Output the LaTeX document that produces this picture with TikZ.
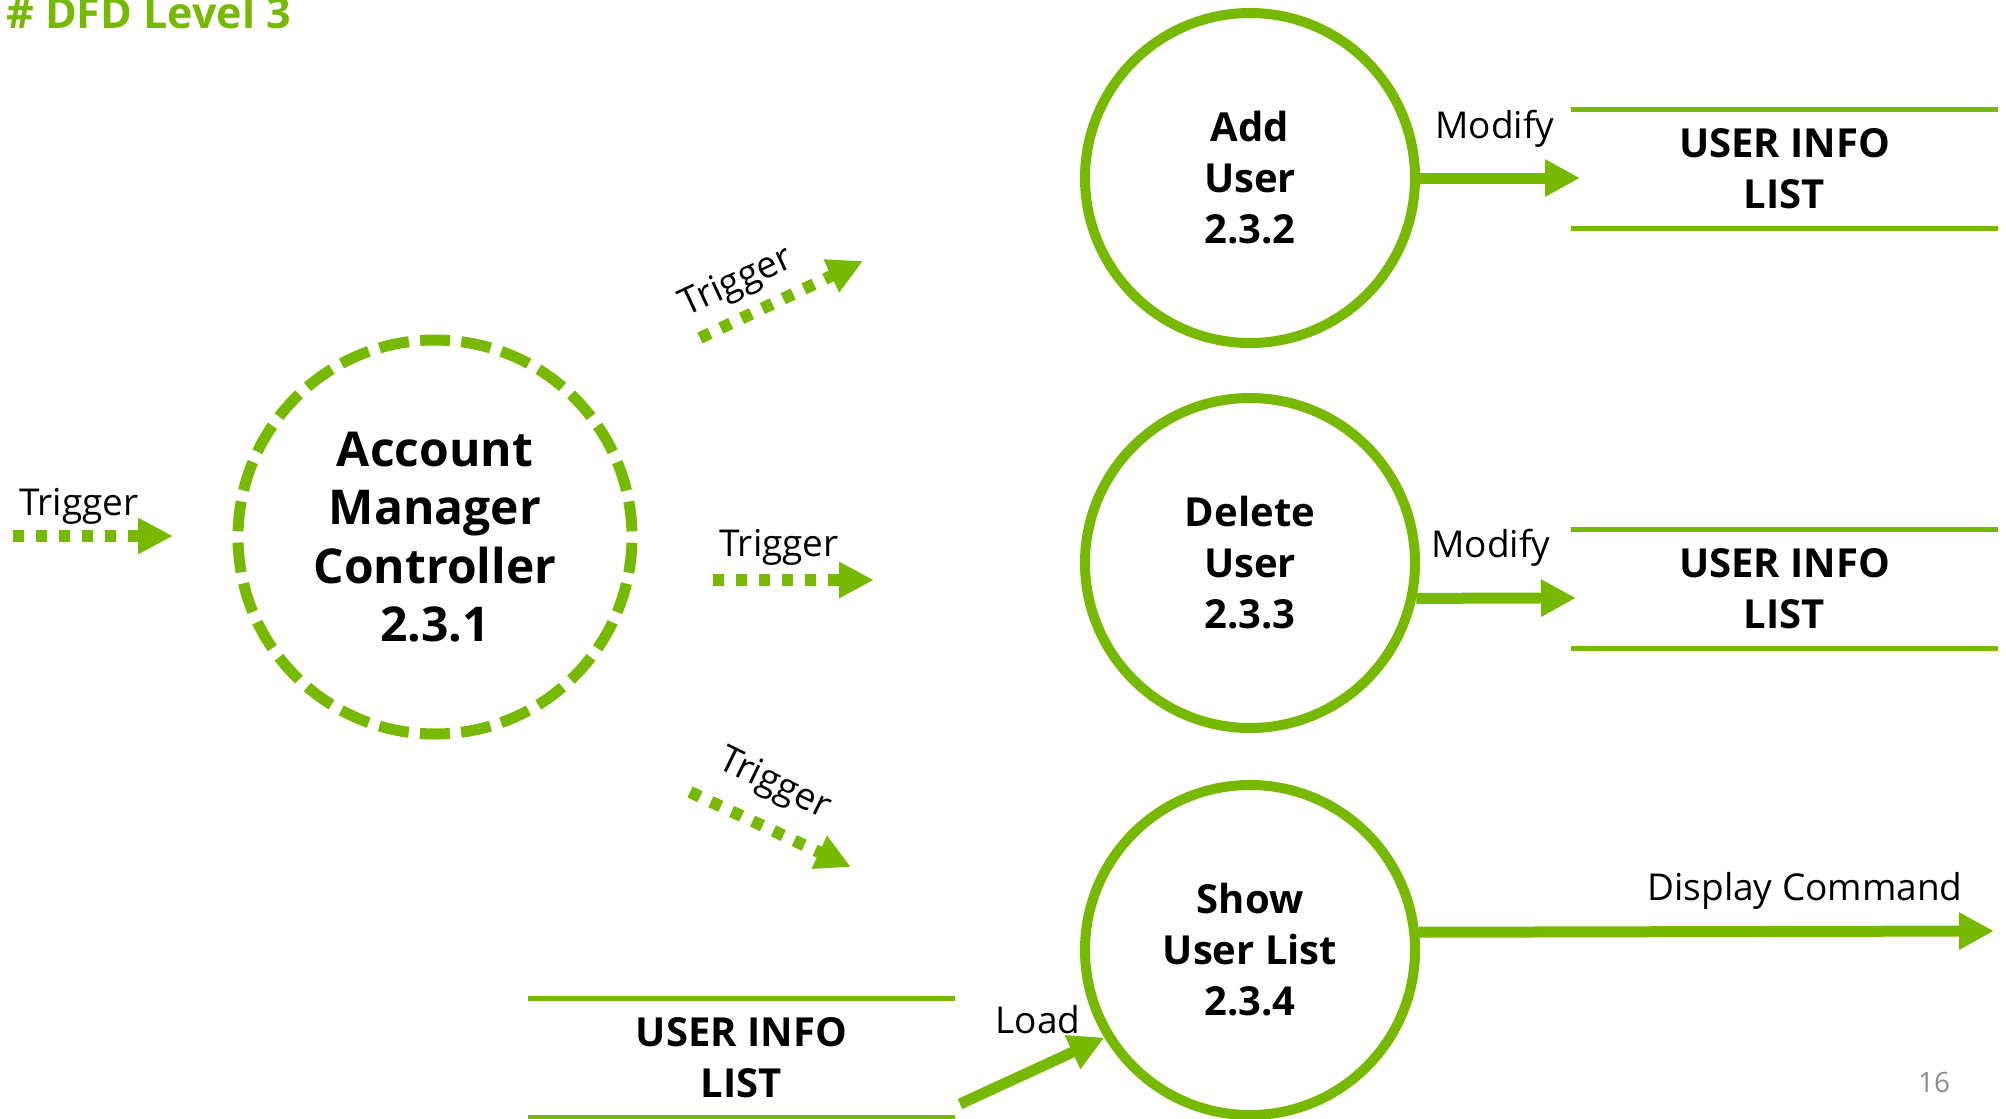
\documentclass[tikz,border=0pt]{standalone}
\usepackage{fontspec}
\setmainfont{Open Sans}
\usetikzlibrary{arrows.meta}
\definecolor{dfdgreen}{HTML}{76B900}
\definecolor{pagegray}{HTML}{8C8C8C}
\begin{document}
\begin{tikzpicture}[x=1pt,y=-1pt,
  proc/.style={circle, draw=dfdgreen, line width=10pt, inner sep=0pt, minimum size=330pt, align=center, font=\bfseries\fontsize{40}{51}\selectfont},
  ctrl/.style={circle, draw=dfdgreen, line width=11pt, dash pattern=on 30pt off 11.26pt, dash phase=35.66pt, inner sep=0pt, minimum size=394pt, align=center, font=\bfseries\fontsize{48}{58.5}\selectfont},
  store/.style={inner sep=0pt, minimum width=427pt, minimum height=118pt, align=center, font=\bfseries\fontsize{40}{51}\selectfont},
  storeline/.style={draw=dfdgreen, line width=5pt},
  flow/.style={draw=dfdgreen, line width=11pt, -{Triangle[length=35pt,width=35pt]}},
  trig/.style={draw=dfdgreen, line width=12pt, dash pattern=on 11pt off 12pt, -{Triangle[length=35pt,width=34pt]}},
  lbl/.style={font=\fontsize{37}{44}\selectfont, inner sep=0pt, anchor=base}
]
\useasboundingbox (0,0) rectangle (2006,1119);

% title and page number
\node[font=\bfseries\fontsize{43}{50}\selectfont, text=dfdgreen, anchor=base west, inner sep=0pt] (title) at (6,28) {\# DFD Level 3};
\node[font=\fontsize{28}{32}\selectfont, text=pagegray, anchor=base, inner sep=0pt] (pg) at (1934,1092) {16};

% processes
\node[ctrl] (amc) at (435,537) {Account\\Manager\\Controller\\2.3.1};
\node[proc] (add) at (1250,178) {Add\\User\\2.3.2};
\node[proc] (del) at (1250,563) {Delete\\User\\2.3.3};
\node[proc] (show) at (1250,950) {Show\\User List\\2.3.4};

% data stores
\node[store] (ds1) at (1784.5,169) {USER INFO\\LIST};
\node[store] (ds2) at (1784.5,589) {USER INFO\\LIST};
\node[store] (ds3) at (741.5,1058) {USER INFO\\LIST};
\foreach \d in {ds1,ds2,ds3}{
  \draw[storeline] (\d.north west) -- (\d.north east) (\d.south west) -- (\d.south east);
}

% solid flows
\coordinate (m1) at (1580,178);
\coordinate (m2) at (1576,598);
\coordinate (dc) at (1994,931);
\coordinate (l0) at (960,1104);
\draw[flow] (add) -- (m1);
\draw[flow] (del.-12) -- (m2);
\draw[flow] (show.6.4) -- (dc);
\draw[flow] (l0) -- (show.211);

% trigger flows
\coordinate (ta0) at (13,536);   \coordinate (ta1) at (173,536);
\coordinate (tb0) at (713,580);  \coordinate (tb1) at (874,580);
\coordinate (tc0) at (700,338);  \coordinate (tc1) at (863,261);
\coordinate (td0) at (690,792);  \coordinate (td1) at (851,867);
\draw[trig] (ta0) -- (ta1);
\draw[trig] (tb0) -- (tb1);
\draw[trig] (tc0) -- (tc1);
\draw[trig] (td0) -- (td1);

% labels
\node[lbl] (lt) at (79,515) {Trigger};
\node[lbl] (lm) at (779,556) {Trigger};
\node[lbl, anchor=center, rotate=25] (ltop) at (737,283) {Trigger};
\node[lbl, anchor=center, rotate=-26] (lbot) at (774,785) {Trigger};
\node[lbl] (lmod1) at (1495,138) {Modify};
\node[lbl] (lmod2) at (1491,557) {Modify};
\node[lbl] (ldc) at (1805,900) {Display Command};
\node[lbl] (lload) at (1038,1033) {Load};
\end{tikzpicture}
\end{document}
